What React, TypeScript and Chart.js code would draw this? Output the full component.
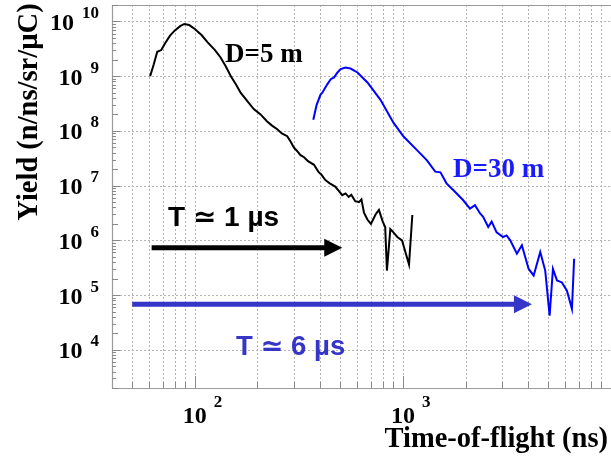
import React, { useEffect, useRef } from 'react';
import { Chart, registerables } from 'chart.js';

Chart.register(...registerables);

// ---- data (time-of-flight in ns, yield in n/ns/sr/µC) ----
const d5Time = [61, 63.5, 66, 69, 72, 76, 80, 85, 89, 94, 100, 108, 115, 125, 133, 141, 149, 158, 166, 180, 192, 207, 222, 235, 249, 262, 278, 290, 299, 310, 322, 335, 350, 374, 392, 405, 424, 445, 473, 492, 511, 530, 549, 565, 590, 615, 632, 650, 675, 702, 740, 767, 800, 822, 838, 870, 900, 940, 990, 1070, 1110];
const d5Yield = [1.0e9, 1.65e9, 2.8e9, 3.0e9, 4.0e9, 5.5e9, 6.8e9, 8.2e9, 9.0e9, 8.6e9, 7.3e9, 5.6e9, 4.2e9, 3.0e9, 2.2e9, 1.5e9, 1.0e9, 7.0e8, 5.0e8, 3.4e8, 2.5e8, 2.0e8, 1.5e8, 1.25e8, 1.07e8, 9.0e7, 8.0e7, 6.2e7, 5.0e7, 4.3e7, 3.6e7, 3.3e7, 2.8e7, 2.4e7, 1.8e7, 1.6e7, 1.26e7, 1.1e7, 9.6e6, 8.0e6, 6.7e6, 7.2e6, 6.2e6, 6.8e6, 5.2e6, 5.0e6, 5.6e6, 3.2e6, 2.4e6, 2.0e6, 3.0e6, 3.6e6, 2.2e6, 1.75e6, 2.8e5, 1.6e6, 1.4e6, 1.15e6, 1.0e6, 3.6e5, 2.9e6];

const d30Time = [371, 385, 402, 410, 433, 450, 467, 485, 502, 530, 560, 605, 677, 780, 902, 1007, 1165, 1305, 1430, 1515, 1620, 1745, 1950, 2100, 2220, 2350, 2430, 2570, 2670, 2820, 3030, 3150, 3280, 3530, 3730, 4020, 4250, 4570, 4830, 5070, 5260, 5500, 5810, 6140, 6490, 6650];
const d30Yield = [1.6e8, 3.0e8, 4.6e8, 5.0e8, 7.1e8, 8.8e8, 9.5e8, 1.17e9, 1.35e9, 1.44e9, 1.38e9, 1.17e9, 7.6e8, 3.7e8, 1.4e8, 7.9e7, 4.5e7, 2.9e7, 1.8e7, 1.75e7, 1.1e7, 8.3e6, 5.4e6, 3.8e6, 4.4e6, 3.1e6, 2.7e6, 1.75e6, 2.2e6, 1.4e6, 1.15e6, 1.23e6, 1.0e6, 5.7e5, 8.1e5, 3.0e5, 2.28e5, 6.1e5, 2.8e5, 4.2e4, 3.0e5, 1.85e5, 1.7e5, 1.2e5, 5.6e4, 4.6e5];

// arrows (start/end time, level)
const arrow1Time = [62, 511];
const arrow1Yield = 7.3e5;
const arrow6Time = [50, 4170];
const arrow6Yield = 6.8e4;

// axes
const xRange = [40, 10000];
const yRange = [2e3, 2e10];
const xDecadeTicks = [100, 1000];
const xGridTicks = [50, 60, 70, 80, 90, 100, 200, 300, 400, 500, 600, 700, 800, 900, 1000, 2000, 3000, 4000, 5000, 6000, 7000, 8000, 9000];
const yDecadeTicks = [1e4, 1e5, 1e6, 1e7, 1e8, 1e9, 1e10];
const yMinorMantissas = [2, 3, 4, 5, 6, 7, 8, 9];

const xTitle = 'Time-of-flight (ns)';
const yTitle = 'Yield (n/ns/sr/\u00B5C)';
const label5 = 'D=5 m';
const label30 = 'D=30 m';
const labelT1 = 'T \u2243 1 \u00B5s';
const labelT6 = 'T \u2243 6 \u00B5s';

const SERIF = '"Liberation Serif", "Times New Roman", serif';
const SANS = '"Liberation Sans", "DejaVu Sans", Arial, sans-serif';
const BLUE_LINE = '#0000ff';
const BLUE_TEXT = '#1a1aff';
const BLUE_ARROW = '#3535c8';

const framePlugin = {
  id: 'framePlugin',
  beforeDatasetsDraw(chart: any) {
    const { ctx, chartArea: a, scales } = chart;
    const x = scales.x;
    const y = scales.y;
    ctx.save();
    // dotted grid
    ctx.strokeStyle = '#b4b4b4';
    ctx.lineWidth = 1;
    ctx.setLineDash([2, 2]);
    for (const v of xGridTicks) {
      const px = Math.round(x.getPixelForValue(v)) + 0.5;
      ctx.beginPath();
      ctx.moveTo(px, a.top);
      ctx.lineTo(px, a.bottom);
      ctx.stroke();
    }
    for (const v of yDecadeTicks) {
      const py = Math.round(y.getPixelForValue(v)) + 0.5;
      ctx.beginPath();
      ctx.moveTo(a.left, py);
      ctx.lineTo(a.right, py);
      ctx.stroke();
    }
    ctx.setLineDash([]);
    // frame
    ctx.strokeStyle = '#9a9a9a';
    ctx.lineWidth = 1.2;
    ctx.beginPath();
    ctx.moveTo(a.right, a.top + 0.5);
    ctx.lineTo(a.left + 0.5, a.top + 0.5);
    ctx.lineTo(a.left + 0.5, a.bottom + 0.5);
    ctx.lineTo(a.right, a.bottom + 0.5);
    ctx.stroke();
    // ticks
    ctx.strokeStyle = '#8a8a8a';
    ctx.lineWidth = 1;
    for (const v of xGridTicks) {
      const px = Math.round(x.getPixelForValue(v)) + 0.5;
      const len = xDecadeTicks.includes(v) ? 12 : 6;
      ctx.beginPath();
      ctx.moveTo(px, a.bottom);
      ctx.lineTo(px, a.bottom - len);
      ctx.stroke();
    }
    for (let e = 3; e <= 10; e++) {
      const dec = Math.pow(10, e);
      if (dec >= yRange[0] && dec <= yRange[1]) {
        const py = Math.round(y.getPixelForValue(dec)) + 0.5;
        ctx.beginPath();
        ctx.moveTo(a.left, py);
        ctx.lineTo(a.left + 8, py);
        ctx.stroke();
      }
      for (const m of yMinorMantissas) {
        const v = m * dec;
        if (v < yRange[0] || v > yRange[1]) continue;
        const py = Math.round(y.getPixelForValue(v)) + 0.5;
        ctx.beginPath();
        ctx.moveTo(a.left, py);
        ctx.lineTo(a.left + (m === 2 ? 6 : 4), py);
        ctx.stroke();
      }
    }
    ctx.restore();
  },
  afterDraw(chart: any) {
    const { ctx, scales } = chart;
    const x = scales.x;
    const y = scales.y;
    ctx.save();
    ctx.fillStyle = '#000';
    ctx.textBaseline = 'alphabetic';
    const mainFont = `bold 24px ${SERIF}`;
    const supFont = `bold 17px ${SERIF}`;
    // y tick labels
    for (const v of yDecadeTicks) {
      const py = y.getPixelForValue(v);
      const exp = String(Math.round(Math.log10(v)));
      ctx.font = supFont;
      ctx.textAlign = 'right';
      ctx.fillText(exp, 99, py - 3.5);
      const w = ctx.measureText(exp).width;
      ctx.font = mainFont;
      ctx.fillText('10', 99 - w - 8, py + 8.5);
    }
    // x tick labels
    for (const v of xDecadeTicks) {
      const px = x.getPixelForValue(v);
      const exp = String(Math.round(Math.log10(v)));
      ctx.font = mainFont;
      ctx.textAlign = 'center';
      ctx.fillText('10', px, 423);
      ctx.font = supFont;
      ctx.textAlign = 'left';
      ctx.fillText(exp, px + 19, 407);
    }
    // axis titles
    ctx.font = `bold 28.5px ${SERIF}`;
    ctx.textAlign = 'right';
    ctx.fillText(xTitle, 608, 447);
    ctx.save();
    ctx.translate(37, 112);
    ctx.rotate(-Math.PI / 2);
    ctx.textAlign = 'center';
    ctx.font = `bold 28.5px ${SERIF}`;
    ctx.fillText(yTitle, 0, 0);
    ctx.restore();
    // curve labels
    ctx.textAlign = 'left';
    ctx.font = `bold 27px ${SERIF}`;
    ctx.fillStyle = '#000';
    ctx.fillText(label5, 225, 62);
    ctx.fillStyle = BLUE_TEXT;
    ctx.fillText(label30, 453, 177);
    ctx.font = `bold 28px ${SANS}`;
    ctx.fillStyle = '#000';
    ctx.fillText(labelT1, 168, 226);
    ctx.font = `bold 27.5px ${SANS}`;
    ctx.fillStyle = BLUE_ARROW;
    ctx.fillText(labelT6, 236, 355);
    // arrows
    const drawArrow = (t0: number, t1: number, yv: number, color: string) => {
      const x0 = x.getPixelForValue(t0);
      const x1 = x.getPixelForValue(t1);
      const py = y.getPixelForValue(yv);
      const head = 18;
      ctx.strokeStyle = color;
      ctx.fillStyle = color;
      ctx.lineWidth = 5;
      ctx.beginPath();
      ctx.moveTo(x0, py);
      ctx.lineTo(x1 - head + 1, py);
      ctx.stroke();
      ctx.beginPath();
      ctx.moveTo(x1, py);
      ctx.lineTo(x1 - head, py - 9);
      ctx.lineTo(x1 - head, py + 9);
      ctx.closePath();
      ctx.fill();
    };
    drawArrow(arrow1Time[0], arrow1Time[1], arrow1Yield, '#000');
    drawArrow(arrow6Time[0], arrow6Time[1], arrow6Yield, BLUE_ARROW);
    ctx.restore();
  },
};

export default function App() {
  const canvasRef = useRef<HTMLCanvasElement | null>(null);

  useEffect(() => {
    if (!canvasRef.current) return;
    const chart = new Chart(canvasRef.current, {
      type: 'line',
      data: {
        datasets: [
          {
            label: label5,
            data: d5Time.map((t, i) => ({ x: t, y: d5Yield[i] })),
            borderColor: '#000',
            borderWidth: 2,
            pointRadius: 0,
            tension: 0,
            fill: false,
          },
          {
            label: label30,
            data: d30Time.map((t, i) => ({ x: t, y: d30Yield[i] })),
            borderColor: BLUE_LINE,
            borderWidth: 2,
            pointRadius: 0,
            tension: 0,
            fill: false,
          },
        ],
      },
      options: {
        animation: false,
        responsive: false,
        devicePixelRatio: 1,
        layout: { padding: { top: 5, left: 0, right: 0, bottom: 0 } },
        plugins: { legend: { display: false }, tooltip: { enabled: false }, title: { display: false } },
        scales: {
          x: {
            type: 'logarithmic',
            min: xRange[0],
            max: xRange[1],
            ticks: { display: false },
            grid: { display: false },
            border: { display: false },
            afterFit: (s: any) => { s.height = 71; },
          },
          y: {
            type: 'logarithmic',
            min: yRange[0],
            max: yRange[1],
            ticks: { display: false },
            grid: { display: false },
            border: { display: false },
            afterFit: (s: any) => { s.width = 112; },
          },
        },
      } as any,
      plugins: [framePlugin],
    });
    return () => chart.destroy();
  }, []);

  return (
    <div style={{ position: 'absolute', left: 0, top: 0, width: 611, height: 459, background: '#fff' }}>
      <canvas ref={canvasRef} width={611} height={459} />
    </div>
  );
}
